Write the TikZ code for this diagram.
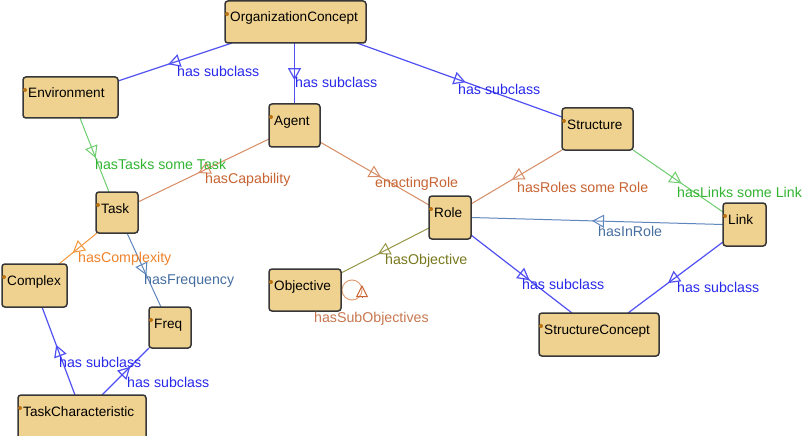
\documentclass[tikz,border=0pt]{standalone}
\usepackage{fontspec}
\setmainfont{Liberation Sans}
\usetikzlibrary{arrows.meta,decorations.markings,backgrounds}

\definecolor{boxfill}{RGB}{240,210,144}
\definecolor{boxline}{RGB}{55,55,55}
\definecolor{dotcolor}{RGB}{185,115,20}
\definecolor{subline}{RGB}{80,80,245}
\definecolor{subtext}{RGB}{40,40,235}
\definecolor{greenline}{RGB}{110,205,110}
\definecolor{greentext}{RGB}{50,180,50}
\definecolor{rustline}{RGB}{215,140,100}
\definecolor{rusttext}{RGB}{200,100,50}
\definecolor{orangeline}{RGB}{245,150,60}
\definecolor{orangetext}{RGB}{240,130,40}
\definecolor{steelline}{RGB}{95,135,190}
\definecolor{steeltext}{RGB}{70,110,160}
\definecolor{oliveline}{RGB}{150,150,70}
\definecolor{olivetext}{RGB}{120,120,30}
\definecolor{loopline}{RGB}{225,160,120}
\definecolor{looptext}{RGB}{200,120,80}

\tikzset{
  classbox/.style={draw=boxline, fill=boxfill, line width=1.5pt,
    rounded corners=3pt, inner sep=0pt, outer sep=0pt},
  classname/.style={anchor=base west, inner sep=0pt, text=black,
    font=\fontsize{13.6}{16}\selectfont},
  edgelabel/.style={anchor=base west, inner sep=0pt,
    font=\fontsize{14.2}{17}\selectfont},
  midtip/.style={postaction={decorate}, decoration={markings,
    mark=at position #1 with {\arrow{Triangle[open, length=12pt, width=13pt]}}}},
  subclass/.style={draw=subline, line width=1.2pt},
  greenrel/.style={draw=greenline, line width=1pt},
  rustrel/.style={draw=rustline, line width=1pt},
  orangerel/.style={draw=orangeline, line width=1pt},
  steelrel/.style={draw=steelline, line width=1pt},
  oliverel/.style={draw=oliveline, line width=1pt},
  looprel/.style={draw=loopline, line width=1pt},
}

% class box: name, x1, y1, x2, y2, caption
\newcommand\classnode[6]{%
  \pgfmathsetmacro\clsW{#4-#2}%
  \pgfmathsetmacro\clsH{#5-#3}%
  \node[classbox, minimum width=\clsW pt, minimum height=\clsH pt]
    (#1) at ({(#2+#4)/2},{(#3+#5)/2}) {};
  \fill[dotcolor] ([shift={(2,13)}]#1.north west) circle[radius=2pt];
  \node[classname] (#1-name) at ([shift={(5,21)}]#1.north west) {#6};
}

\begin{document}
\begin{tikzpicture}[x=1pt, y=-1pt]
\useasboundingbox (0,0) rectangle (807,436);

% classes
\classnode{org}{225}{1}{366}{43}{OrganizationConcept}
\classnode{env}{23}{77}{118}{118}{Environment}
\classnode{agent}{269}{104}{320}{147}{Agent}
\classnode{task}{96}{192}{138}{233}{Task}
\classnode{struct}{562}{108}{633}{150}{Structure}
\classnode{role}{429}{196}{471}{239}{Role}
\classnode{link}{723}{203}{766}{246}{Link}
\classnode{complex}{2}{264}{67}{307}{Complex}
\classnode{freq}{149}{307}{191}{348}{Freq}
\classnode{tchar}{18}{395}{146}{440}{TaskCharacteristic}
\classnode{objective}{269}{269}{341}{311}{Objective}
\classnode{sconcept}{539}{313}{659}{356}{StructureConcept}

\begin{pgfonlayer}{background}
\fill[white] (0,0) rectangle (807,436);

% connectors
\draw[subclass, midtip=0.56] ([shift={(7,0)}]org.south west) -- ([shift={(0,4)}]env.north east);
\draw[subclass, midtip=0.61] (agent.north |- org.south) -- (agent.north);
\draw[subclass, midtip=0.53] ([shift={(-9,0)}]org.south east) -- ([shift={(0,9)}]struct.north west);
\draw[greenrel, midtip=0.54] ([shift={(9.5,0)}]env.south) -- ([shift={(-8,0)}]task.north);
\draw[rustrel, midtip=0.54] ([shift={(0,-8)}]agent.south west) -- ([shift={(0,10)}]task.north east);
\draw[rustrel, midtip=0.56] ([shift={(0,-5)}]agent.south east) -- ([shift={(0,9)}]role.north west);
\draw[rustrel, midtip=0.55] (struct.south west) -- ([shift={(0,8)}]role.north east);
\draw[greenrel, midtip=0.54] (struct.south east) -- ([shift={(0,9)}]link.north west);
\draw[steelrel, midtip=0.52] (link.west) -- (role.east);
\draw[oliverel, midtip=0.58] ([shift={(0,-11)}]role.south west) -- ([shift={(0,4)}]objective.north east);
\draw[subclass, midtip=0.58] ([shift={(0,-4)}]role.south east) -- ([shift={(-27,0)}]sconcept.north);
\draw[subclass, midtip=0.58] ([shift={(0,-4)}]link.south west) -- ([shift={(-31,0)}]sconcept.north east);
\draw[orangerel, midtip=0.64] ([shift={(1,0)}]task.south west) -- ([shift={(-8,0)}]complex.north east);
\draw[steelrel, midtip=0.57] ([shift={(10,0)}]task.south) -- ([shift={(-9,0)}]freq.north);
\draw[subclass, midtip=0.57] ([shift={(57,0)}]tchar.north west) -- ([shift={(7.5,0)}]complex.south);
\draw[subclass, midtip=0.6] ([shift={(84,0)}]tchar.north west) -- (freq.south west);

% self relation on Objective
\coordinate (loopc) at ([shift={(11,-21)}]objective.south east);
\draw[looprel] ([shift={(10,0)}]loopc) arc[start angle=0, end angle=-360, radius=10];
\draw[draw=rusttext, line width=1pt, -{Triangle[open, length=12pt, width=12pt]}]
  ([shift={(10,7)}]loopc) -- ([shift={(10,-5)}]loopc);
\end{pgfonlayer}

% connector labels
\node[edgelabel, text=subtext] (l1) at (177,77) {has subclass};
\node[edgelabel, text=subtext] (l2) at (295,88) {has subclass};
\node[edgelabel, text=subtext] (l3) at (458,95) {has subclass};
\node[edgelabel, text=greentext] (l4) at (95,169) {hasTasks some Task};
\node[edgelabel, text=rusttext] (l5) at (205,183) {hasCapability};
\node[edgelabel, text=rusttext] (l6) at (375,187) {enactingRole};
\node[edgelabel, text=rusttext] (l7) at (517,193) {hasRoles some Role};
\node[edgelabel, text=greentext] (l8) at (677,197) {hasLinks some Link};
\node[edgelabel, text=steeltext] (l9) at (598,236) {hasInRole};
\node[edgelabel, text=olivetext] (l10) at (385,264) {hasObjective};
\node[edgelabel, text=looptext] (l11) at (314,322) {hasSubObjectives};
\node[edgelabel, text=subtext] (l12) at (522,289) {has subclass};
\node[edgelabel, text=subtext] (l13) at (677,292) {has subclass};
\node[edgelabel, text=orangetext] (l14) at (78,262) {hasComplexity};
\node[edgelabel, text=steeltext] (l15) at (144,284) {hasFrequency};
\node[edgelabel, text=subtext] (l16) at (59,367) {has subclass};
\node[edgelabel, text=subtext] (l17) at (127,387) {has subclass};
\end{tikzpicture}
\end{document}
